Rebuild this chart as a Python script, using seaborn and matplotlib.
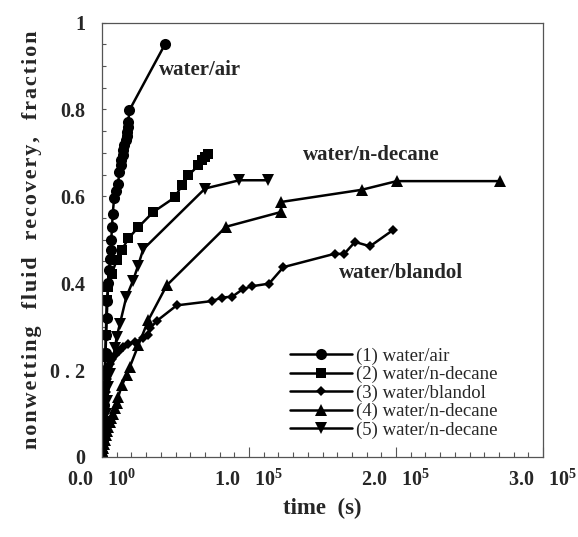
import matplotlib
matplotlib.use("Agg")
import matplotlib.pyplot as plt
import seaborn as sns
import pandas as pd

# series 1: water/air (circles)
t1 = [0, 400, 800, 1200, 1600, 2000, 2400, 2800, 3200, 3700,
      4200, 4800, 5400, 5900, 6300, 6800, 7300, 8200, 9500, 10900,
      11800, 12700, 13200, 14100, 14500, 15200, 16100, 16800, 17200, 17500,
      17900, 18600, 43000]
r1 = [0.0, 0.04, 0.08, 0.12, 0.16, 0.2, 0.24, 0.28, 0.32, 0.36,
      0.40, 0.43, 0.455, 0.476, 0.50, 0.53, 0.56, 0.595, 0.612, 0.629,
      0.656, 0.671, 0.683, 0.694, 0.706, 0.717, 0.729, 0.740, 0.748, 0.759,
      0.771, 0.798, 0.951]

# series 2: water/n-decane (squares)
t2 = [0, 300, 600, 900, 1200, 1500, 1800, 2200, 2600, 3200,
      4300, 6600, 10000, 13400, 17900, 24700, 34900, 49700, 54200, 58700,
      65500, 67800, 70000, 72300]
r2 = [0.0, 0.03, 0.06, 0.09, 0.12, 0.15, 0.19, 0.23, 0.28, 0.361,
      0.392, 0.422, 0.453, 0.476, 0.503, 0.529, 0.564, 0.598, 0.625, 0.648,
      0.671, 0.683, 0.690, 0.698]

# series 3: water/blandol (diamonds)
t3 = [0, 500, 1000, 1500, 2000, 2600, 3300, 4200, 5500, 7000,
      9000, 11500, 14500, 17900, 22400, 28100, 31500, 32700, 37200, 50800,
      75000, 81400, 88600, 95600, 101800, 113600, 123400, 158500, 164600, 172100,
      182300, 198200]
r3 = [0.0, 0.03, 0.06, 0.09, 0.12, 0.15, 0.18, 0.2, 0.215, 0.225,
      0.235, 0.245, 0.254, 0.261, 0.265, 0.273, 0.28, 0.296, 0.313, 0.349,
      0.359, 0.367, 0.369, 0.386, 0.393, 0.399, 0.437, 0.468, 0.467, 0.495,
      0.485, 0.523]

# series 4: water/n-decane (triangles up)
t4 = [0, 500, 1000, 1600, 2200, 2900, 3600, 4400, 5300, 6300,
      7500, 8800, 10000, 11100, 13500, 16800, 19000, 24700, 31500, 44000,
      84400, 121800, 121800, 176600, 200500, 270700]
r4 = [0.0, 0.01, 0.02, 0.03, 0.04, 0.05, 0.06, 0.07, 0.08, 0.09,
      0.1, 0.112, 0.125, 0.139, 0.165, 0.189, 0.208, 0.257, 0.315, 0.395,
      0.53, 0.564, 0.587, 0.615, 0.635, 0.635]

# series 5: water/n-decane (triangles down)
t5 = [0, 400, 800, 1300, 1900, 2600, 3400, 4400, 5600, 7000,
      8800, 10000, 12200, 16500, 21000, 24500, 28000, 70100, 93400, 113200]
r5 = [0.0, 0.02, 0.04, 0.06, 0.08, 0.1, 0.13, 0.16, 0.19, 0.22,
      0.25, 0.277, 0.307, 0.368, 0.405, 0.44, 0.478, 0.618, 0.637, 0.637]

labels = ["(1) water/air", "(2) water/n-decane", "(3) water/blandol",
          "(4) water/n-decane", "(5) water/n-decane"]
x_ticks = [0, 100000, 200000, 300000]
x_ticklabels = ["0.0   10$^{\\mathbf{0}}$", "1.0   10$^{\\mathbf{5}}$",
                "2.0   10$^{\\mathbf{5}}$", "3.0   10$^{\\mathbf{5}}$"]
y_ticks = [0, 0.2, 0.4, 0.6, 0.8, 1.0]
y_ticklabels = ["0", "0 . 2", "0.4", "0.6", "0.8", "1"]
ylabel_words = ["nonwetting", "fluid", "recovery,", "fraction"]

sns.set_theme(style="ticks")
plt.rcParams["font.family"] = ["Liberation Serif", "DejaVu Serif"]
plt.rcParams["mathtext.fontset"] = "custom"
plt.rcParams["mathtext.rm"] = "Liberation Serif"
plt.rcParams["mathtext.bf"] = "Liberation Serif:bold"
plt.rcParams["mathtext.it"] = "Liberation Serif:italic"

fig = plt.figure(figsize=(5.78, 5.37), dpi=100)
ax = fig.add_axes([0.1765, 0.149, 0.763, 0.809])

series = [(t1, r1, "o", 8), (t2, r2, "s", 7.5), (t3, r3, "D", 5.5),
          (t4, r4, "^", 8), (t5, r5, "v", 8)]
for (t, r, m, ms), lab in zip(series, labels):
    df = pd.DataFrame({"time": t, "recovery": r})
    sns.lineplot(data=df, x="time", y="recovery", ax=ax, color="black",
                 marker=m, markersize=ms, markeredgewidth=0, linewidth=1.8,
                 sort=False, estimator=None, label=lab)

ax.set_xlim(0, 300000)
ax.set_ylim(0, 1)
ax.set_xticks(x_ticks)
ax.set_xticklabels(x_ticklabels, fontsize=14.5, fontweight="bold")
ax.set_xticks(range(0, 300001, 10000), minor=True)
ax.set_yticks(y_ticks)
ax.set_yticklabels(y_ticklabels, fontsize=14.5, fontweight="bold")
ax.set_yticks([i * 0.05 for i in range(21)], minor=True)
ax.tick_params(axis="x", which="major", direction="in", length=7, width=0.8,
               pad=9, color="#555555")
ax.tick_params(axis="x", which="minor", direction="in", length=3.5, width=0.8,
               color="#555555")
ax.tick_params(axis="y", which="both", direction="in", length=3, width=0.8,
               pad=12, color="#555555")
for s in ax.spines.values():
    s.set_color("#555555")
    s.set_linewidth(0.9)

# letter-spaced y label like the original
ylabel = "   ".join("\u200a".join(w) for w in ylabel_words)
ax.set_xlabel("time  (s)", fontsize=16.5, fontweight="bold", labelpad=5)
ax.set_ylabel(ylabel, fontsize=16, fontweight="bold", labelpad=6)

ax.text(66700, 0.89, "water/air", fontsize=15, fontweight="bold",
        ha="center", va="center")
ax.text(183000, 0.694, "water/n-decane", fontsize=15, fontweight="bold",
        ha="center", va="center")
ax.text(203400, 0.423, "water/blandol", fontsize=15, fontweight="bold",
        ha="center", va="center")

leg = ax.legend(loc="lower left", bbox_to_anchor=(0.426, 0.042), frameon=False,
                fontsize=13.5, handlelength=3.3, labelspacing=0.06,
                handletextpad=0.2, borderaxespad=0, borderpad=0)

fig.savefig("out.png", dpi=100)
